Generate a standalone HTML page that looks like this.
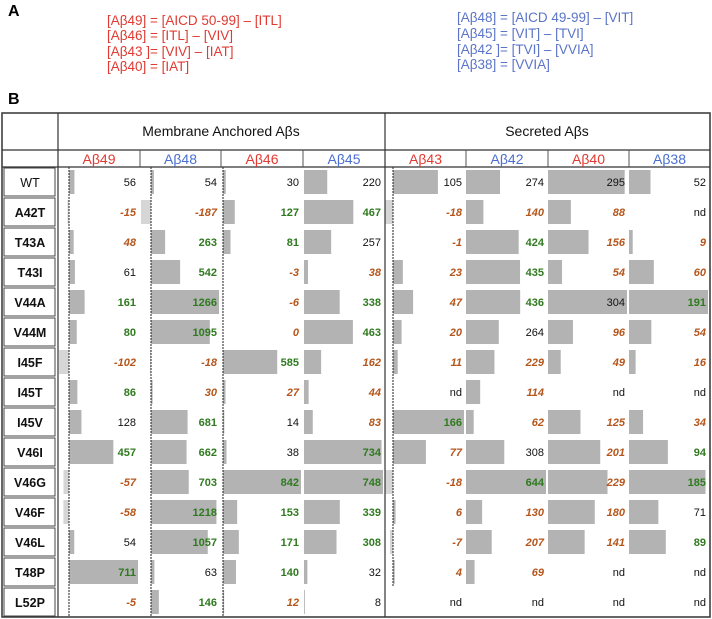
<!DOCTYPE html>
<html><head><meta charset="utf-8">
<style>
body{margin:0;background:#fff;width:712px;height:619px;overflow:hidden;font-family:"Liberation Sans",sans-serif;}
svg{display:block}
.lab{font-family:"Liberation Sans Narrow","Liberation Sans",sans-serif;font-size:13.5px}
</style></head><body>
<svg id="chart" width="712" height="619" viewBox="0 0 712 619">
<text x="8" y="16" font-size="16" font-weight="bold">A</text>
<g class="lab" fill="#e03a32">
<text x="107" y="25">[Aβ49] = [AICD 50-99] – [ITL]</text>
<text x="107" y="40">[Aβ46] = [ITL] – [VIV]</text>
<text x="107" y="56">[Aβ43 ]= [VIV] – [IAT]</text>
<text x="107" y="71">[Aβ40] = [IAT]</text>
</g>
<g class="lab" fill="#5b74c8">
<text x="457" y="22">[Aβ48] = [AICD 49-99] – [VIT]</text>
<text x="457" y="38">[Aβ45] = [VIT] – [TVI]</text>
<text x="457" y="54">[Aβ42 ]= [TVI] – [VVIA]</text>
<text x="457" y="69">[Aβ38] = [VVIA]</text>
</g>
<text x="8" y="104" font-size="16" font-weight="bold">B</text>
<g id="tbl"></g>
</svg>
<script>
const rows=["WT","A42T","T43A","T43I","V44A","V44M","I45F","I45T","I45V","V46I","V46G","V46F","V46L","T48P","L52P"];
const cols=["Aβ49","Aβ48","Aβ46","Aβ45","Aβ43","Aβ42","Aβ40","Aβ38"];
const colColors=["#e03a32","#4a6fd0","#e03a32","#4a6fd0","#e03a32","#4a6fd0","#e03a32","#4a6fd0"];
const v49=[56,-15,48,61,161,80,-102,86,128,457,-57,-58,54,711,-5];
const v48=[54,-187,263,542,1266,1095,-18,30,681,662,703,1218,1057,63,146];
const v46=[30,127,81,-3,-6,0,585,27,14,38,842,153,171,140,12];
const v45=[220,467,257,38,338,463,162,44,83,734,748,339,308,32,8];
const v43=[105,-18,-1,23,47,20,11,null,166,77,-18,6,-7,4,null];
const v42=[274,140,424,435,436,264,229,114,62,308,644,130,207,69,null];
const v40=[295,88,156,54,304,96,49,null,125,201,229,180,141,null,null];
const v38=[52,null,9,60,191,54,16,null,34,94,185,71,89,null,null];
const st49=["k","o","o","k","g","g","o","g","k","g","o","o","k","g","o"];
const st48=["k","o","g","g","g","g","o","o","g","g","g","g","g","k","g"];
const st46=["k","g","g","o","o","o","g","o","k","k","g","g","g","g","o"];
const st45=["k","g","k","o","g","g","o","o","o","g","g","g","g","k","k"];
const st43=["k","o","o","o","o","o","o","k","g","o","o","o","o","o","k"];
const st42=["k","o","g","g","g","k","o","o","o","k","g","o","o","o","k"];
const st40=["k","o","o","o","k","o","o","k","o","o","o","o","o","k","k"];
const st38=["k","k","o","o","g","o","o","k","o","g","g","k","g","k","k"];
const vals=[v49,v48,v46,v45,v43,v42,v40,v38];
const sts=[st49,st48,st46,st45,st43,st42,st40,st38];
const colL=[58,140,221,303,385,466,548,629];
const colR=[140,221,303,385,466,548,629,710];
const base=[69,151,223,304,393,466,548,629];
const dashed=[true,true,true,false,true,false,false,false];
const T0=113,H1=150,H2=167,RH=30,L=2,R=710,B=617;
const NS="http://www.w3.org/2000/svg";
const g=document.getElementById('tbl');
function mk(t,a,txt){const e=document.createElementNS(NS,t);for(const k in a)e.setAttribute(k,a[k]);if(txt!=null)e.textContent=txt;g.appendChild(e);return e;}
vals.forEach((arr,c)=>{
  const nums=arr.filter(v=>v!=null);const mx=Math.max(...nums);
  const sc=(colR[c]-base[c]-2)/mx;
  arr.forEach((v,r)=>{
    const y=H2+r*RH+3;
    if(v!=null&&v!==0){
      const w=Math.abs(v)*sc;
      const x=v>0?base[c]:Math.max(base[c]-w,colL[c]-10);
      const b=mk('rect',{x:x,y:y,width:v>0?w:base[c]-x,height:RH-6,fill:v>0?'#b3b3b3':'#d6d6d6'});
      
      
    }
    const s=sts[c][r];
    const t=mk('text',{x:colR[c]-4,y:y+16,'text-anchor':'end','font-size':11,
      fill:s==='g'?'#2f7a1f':s==='o'?'#b5561c':'#111','font-weight':s==='k'?'normal':'bold','font-style':s==='o'?'italic':'normal'},v==null?'nd':String(v));
    
    
  });
  if(dashed[c]){const l=mk('line',{x1:base[c],x2:base[c],y1:H2,y2:c===4?B-30:B,stroke:'#222','stroke-width':1,'stroke-dasharray':'2,1'});
    }
});
mk('rect',{x:L,y:T0,width:R-L,height:B-T0,fill:'none',stroke:'#333','stroke-width':1.5});
mk('line',{x1:58,x2:58,y1:T0,y2:B,stroke:'#333','stroke-width':1.2});
mk('line',{x1:385,x2:385,y1:T0,y2:B,stroke:'#333','stroke-width':1.2});
mk('line',{x1:L,x2:R,y1:H1,y2:H1,stroke:'#333','stroke-width':1.2});
mk('line',{x1:L,x2:R,y1:H2,y2:H2,stroke:'#333','stroke-width':1.2});
colL.forEach((x,i)=>{if(i>0&&i!==4)mk('line',{x1:x,x2:x,y1:H1,y2:H2,stroke:'#555','stroke-width':1});});
const h1=mk('text',{x:221,y:136,'text-anchor':'middle','font-size':14,fill:'#111'},'Membrane Anchored Aβs');

const h2=mk('text',{x:547,y:136,'text-anchor':'middle','font-size':14,fill:'#111'},'Secreted Aβs');

cols.forEach((n,i)=>{const t=mk('text',{x:(colL[i]+colR[i])/2,y:164,'text-anchor':'middle','font-size':14,fill:colColors[i]},n);
  });
rows.forEach((n,r)=>{const y=H2+r*RH;
  mk('rect',{x:4,y:y+1,width:51,height:RH-2,fill:'none',stroke:'#444','stroke-width':1});
  const t=mk('text',{x:30,y:y+20,'text-anchor':'middle','font-size':12.5,'font-weight':r===0?'normal':'bold',fill:'#111'},n);
  });
</script>
</body></html>
